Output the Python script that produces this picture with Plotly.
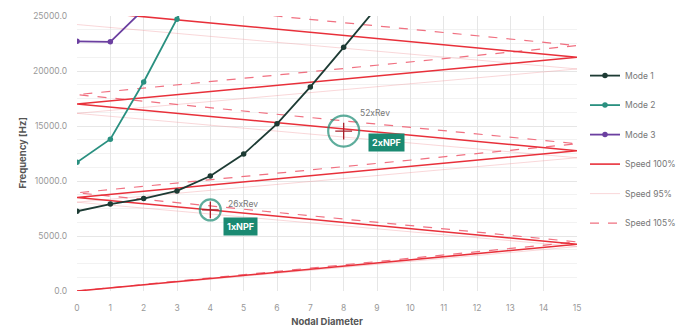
import plotly.graph_objects as go

# ---- data ----
nd_mode1 = [0, 1, 2, 3, 4, 5, 6, 7, 8, 9]
f_mode1 = [7250, 7900, 8400, 9100, 10450, 12450, 15200, 18550, 22150, 25800]
nd_mode2 = [0, 1, 2, 3, 4]
f_mode2 = [11700, 13800, 19000, 24700, 30500]
nd_mode3 = [0, 1, 2]
f_mode3 = [22700, 22650, 25600]

speed_nd = [0, 15, 0, 15, 0, 15, 0]
f_speed100 = [0, 4250, 8500, 12750, 17000, 21250, 25500]
f_speed95 = [0, 4037, 8075, 12112, 16150, 20187, 24225]
f_speed105 = [0, 4462, 8925, 13387, 17850, 22312, 26775]

npf_nd = [4, 8]
npf_freq = [7370, 14540]
npf_labels = ["1xNPF", "2xNPF"]
rev_labels = ["26xRev", "52xRev"]
circle_sizes = [21, 31]

x_ticks = list(range(0, 16))

FONT = "Inter"
TEAL = "#1a8a72"

fig = go.Figure()

fig.add_trace(go.Scatter(x=speed_nd, y=f_speed95, mode="lines", name="Speed 95%",
                         line=dict(color="rgba(240,150,155,0.38)", width=1),
                         legendgroup="s95", legendrank=5))
fig.add_trace(go.Scatter(x=speed_nd, y=f_speed105, mode="lines", name="Speed 105%",
                         line=dict(color="#f07080", width=1.2, dash="dash"),
                         legendgroup="s105", legendrank=6))
fig.add_trace(go.Scatter(x=speed_nd, y=f_speed100, mode="lines", name="Speed 100%",
                         line=dict(color="#e8303a", width=1.6),
                         legendgroup="s100", legendrank=4))

fig.add_trace(go.Scatter(x=nd_mode1, y=f_mode1, mode="lines+markers", name="Mode 1",
                         line=dict(color="#1d3b34", width=1.8), marker=dict(size=5.5),
                         legendgroup="m1", legendrank=1))
fig.add_trace(go.Scatter(x=nd_mode2, y=f_mode2, mode="lines+markers", name="Mode 2",
                         line=dict(color="#2a9080", width=1.8), marker=dict(size=5.5),
                         legendgroup="m2", legendrank=2))
fig.add_trace(go.Scatter(x=nd_mode3, y=f_mode3, mode="lines+markers", name="Mode 3",
                         line=dict(color="#6b3fa0", width=1.8), marker=dict(size=5.5),
                         legendgroup="m3", legendrank=3))

fig.add_trace(go.Scatter(x=npf_nd, y=npf_freq, mode="markers", showlegend=False,
                         marker=dict(symbol="cross-thin", size=12,
                                     line=dict(color="#a8202a", width=1.3))))
fig.add_trace(go.Scatter(x=npf_nd, y=npf_freq, mode="markers", showlegend=False,
                         marker=dict(symbol="circle-open", size=circle_sizes,
                                     line=dict(color=TEAL, width=2.2), color=TEAL)))

box_shift = [(30, -17), (43, -11)]
rev_shift = [(33, 6), (31, 18)]
for i in range(len(npf_nd)):
    fig.add_annotation(x=npf_nd[i], y=npf_freq[i], text="<b>%s</b>" % npf_labels[i],
                       showarrow=False, xshift=box_shift[i][0], yshift=box_shift[i][1],
                       bgcolor=TEAL, borderpad=3,
                       font=dict(family=FONT, size=9, color="white"))
    fig.add_annotation(x=npf_nd[i], y=npf_freq[i], text=rev_labels[i],
                       showarrow=False, xshift=rev_shift[i][0], yshift=rev_shift[i][1],
                       font=dict(family=FONT, size=8.5, color="#777"))

# y-axis title
fig.add_annotation(xref="paper", yref="paper", x=-0.11, y=0.5, text="<b>Frequency [Hz]</b>",
                   textangle=-90, showarrow=False, xanchor="center", yanchor="middle",
                   font=dict(family=FONT, size=9.5, color="#555"))

fig.update_layout(
    width=691, height=328,
    margin=dict(l=69, r=122, t=8, b=45),
    paper_bgcolor="white", plot_bgcolor="white",
    font=dict(family=FONT, size=8.5, color="#999"),
    legend=dict(x=1.016, y=0.836, xanchor="left", yanchor="top",
                tracegroupgap=10.5, font=dict(family=FONT, size=8.5, color="#777"),
                bgcolor="rgba(0,0,0,0)"),
    xaxis=dict(range=[0, 15], tickvals=x_ticks, showgrid=True, gridcolor="#e6e6e6",
               gridwidth=1, zeroline=False, showline=False, ticks="",
               automargin=False, ticklabelstandoff=10,
               tickfont=dict(family=FONT, size=8.5, color="#999"),
               title=dict(text="<b>Nodal Diameter</b>", standoff=6,
                          font=dict(family=FONT, size=9.5, color="#555"))),
    yaxis=dict(range=[0, 25000], dtick=5000, tickformat=".1f", showgrid=True,
               gridcolor="#e6e6e6", zeroline=False, showline=False, ticks="",
               automargin=False, ticklabelstandoff=9,
               minor=dict(dtick=1250, showgrid=True, gridcolor="#f2f2f2"),
               tickfont=dict(family=FONT, size=8.5, color="#999")),
)

fig.write_html("out.html")
